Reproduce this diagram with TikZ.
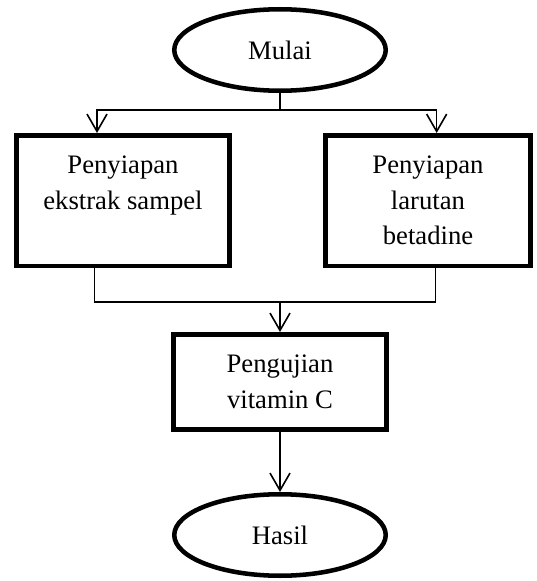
\documentclass[tikz,border=0pt]{standalone}
\usepackage{fontspec}
\setmainfont{Liberation Serif}
\usetikzlibrary{positioning,shapes.geometric,arrows.meta}

\begin{document}
\begin{tikzpicture}[auto,node distance=30pt,
    >={Straight Barb[length=13pt,width=15pt]},
    every path/.style={line width=1.2pt},
    terminal/.style={ellipse,draw,line width=3.4pt,inner sep=0pt,
      minimum width=158.6pt,minimum height=61.1pt,
      font=\fontsize{20pt}{26.6pt}\selectfont},
    proses/.style={rectangle,draw,line width=3.4pt,align=center,
      minimum height=97.9pt,font=\fontsize{20pt}{26.6pt}\selectfont}]
  \useasboundingbox (-210pt,37.5pt) rectangle (192pt,-398.25pt);
  \node[terminal] (mulai) {Mulai};
  \node[proses,minimum width=160.1pt] (kiri) [below=of mulai,xshift=-117.75pt]
    {Penyiapan\\ekstrak sampel\\\mbox{}};
  \node[proses,minimum width=154.1pt] (kanan) [below=of mulai,xshift=111pt]
    {Penyiapan\\larutan\\betadine};
  \node[proses,minimum width=159.4pt,minimum height=71.6pt] (uji)
    [below=179.25pt of mulai] {Pengujian\\vitamin C};
  \node[terminal] (hasil) [below=45pt of uji] {Hasil};
  \coordinate[below=12.75pt of mulai] (cabang);
  \coordinate[above=22.5pt of uji] (gabung);
  \draw (mulai) -- (cabang);
  \draw[->] (cabang) -| ([xshift=-19.5pt]kiri.north);
  \draw[->] (cabang) -| ([xshift=6.5pt]kanan.north);
  \draw ([xshift=-21.5pt]kiri.south) |- (gabung);
  \draw ([xshift=5.5pt]kanan.south) |- (gabung);
  \draw[->] (gabung) -- (uji);
  \draw[->] (uji) -- (hasil);
\end{tikzpicture}
\end{document}
